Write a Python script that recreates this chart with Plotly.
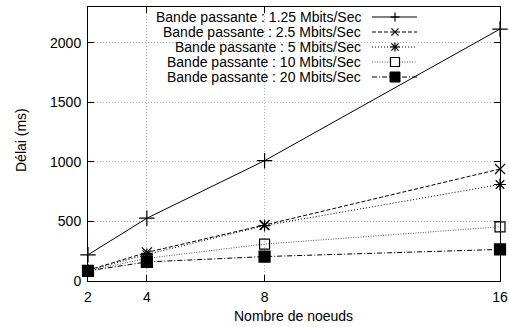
import plotly.graph_objects as go

nodes = [2, 4, 8, 16]
bw_labels = [
    "Bande passante : 1.25 Mbits/Sec",
    "Bande passante : 2.5 Mbits/Sec",
    "Bande passante : 5 Mbits/Sec",
    "Bande passante : 10 Mbits/Sec",
    "Bande passante : 20 Mbits/Sec",
]
delay_125 = [220, 527, 1010, 2115]
delay_25 = [90, 240, 470, 940]
delay_5 = [90, 222, 465, 810]
delay_10 = [85, 190, 310, 455]
delay_20 = [85, 160, 205, 265]
x_ticks = [2, 4, 8, 16]
y_ticks = [0, 500, 1000, 1500, 2000]

series = [delay_125, delay_25, delay_5, delay_10, delay_20]
dashes = ["solid", "4px,2px", "1px,2px", "1px,1.5px", "5px,2px,1px,2px"]
symbols = ["cross-thin", "x-thin", "asterisk", "square-open", "square"]
sizes = [11, 10, 10, 10, 11]
lcolors = ["black", "black", "black", "#555555", "black"]

FONT = "Liberation Sans, Arial, Helvetica, sans-serif"

fig = go.Figure()
for vals, name, dash, sym, sz, lc in zip(series, bw_labels, dashes, symbols, sizes, lcolors):
    fig.add_trace(go.Scatter(
        x=nodes, y=vals, name=name, mode="lines+markers",
        line=dict(color=lc, width=1, dash=dash),
        marker=dict(symbol=sym, size=sz, color="black",
                    line=dict(color="black", width=1.2)),
        showlegend=False, cliponaxis=False,
    ))

# plot-area pixel geometry used for legend placement
L, R, T, B = 88, 500, 7, 281
def px(x):
    return (x - L) / (R - L)
def py(y):
    return (B - y) / (B - T)

shapes = []
annotations = []
# white legend background (covers grid only)
shapes.append(dict(type="rect", xref="paper", yref="paper",
                   x0=px(145), x1=px(425), y0=py(84), y1=py(8),
                   fillcolor="white", line=dict(width=0), layer="between"))
rows = [17, 32, 47, 62, 77]
for i, (name, row) in enumerate(zip(bw_labels, rows)):
    annotations.append(dict(text=name, xref="paper", yref="paper",
                            x=px(363), y=py(row), xanchor="right", yanchor="middle",
                            showarrow=False, font=dict(size=14, color="black", family=FONT)))
    shapes.append(dict(type="line", xref="paper", yref="paper",
                       x0=px(372), x1=px(417), y0=py(row), y1=py(row),
                       line=dict(color=lcolors[i], width=1, dash=dashes[i]), layer="above"))
    cx, cy, h = 395, row, 4.5
    if symbols[i] in ("cross-thin", "asterisk"):
        shapes.append(dict(type="line", xref="paper", yref="paper", x0=px(cx - h), x1=px(cx + h),
                           y0=py(cy), y1=py(cy), line=dict(color="black", width=1.2), layer="above"))
        shapes.append(dict(type="line", xref="paper", yref="paper", x0=px(cx), x1=px(cx),
                           y0=py(cy - h), y1=py(cy + h), line=dict(color="black", width=1.2), layer="above"))
    if symbols[i] in ("x-thin", "asterisk"):
        d = 3.6
        shapes.append(dict(type="line", xref="paper", yref="paper", x0=px(cx - d), x1=px(cx + d),
                           y0=py(cy - d), y1=py(cy + d), line=dict(color="black", width=1.2), layer="above"))
        shapes.append(dict(type="line", xref="paper", yref="paper", x0=px(cx - d), x1=px(cx + d),
                           y0=py(cy + d), y1=py(cy - d), line=dict(color="black", width=1.2), layer="above"))
    if symbols[i] == "square-open":
        shapes.append(dict(type="rect", xref="paper", yref="paper", x0=px(cx - 4.5), x1=px(cx + 4.5),
                           y0=py(cy + 4.5), y1=py(cy - 4.5), fillcolor="white",
                           line=dict(color="black", width=1.2), layer="above"))
    if symbols[i] == "square":
        shapes.append(dict(type="rect", xref="paper", yref="paper", x0=px(cx - 5), x1=px(cx + 5),
                           y0=py(cy + 5), y1=py(cy - 5), fillcolor="black",
                           line=dict(color="black", width=1), layer="above"))

# axis titles as annotations for exact placement
annotations.append(dict(text="Nombre de noeuds", xref="paper", yref="paper",
                        x=px(293), y=py(316), xanchor="center", yanchor="middle",
                        showarrow=False, font=dict(size=14, color="black", family=FONT)))
annotations.append(dict(text="Délai (ms)", xref="paper", yref="paper",
                        x=px(21), y=py(140), xanchor="center", yanchor="middle", textangle=-90,
                        showarrow=False, font=dict(size=14, color="black", family=FONT)))

axis_common = dict(
    showline=True, linecolor="black", linewidth=1, mirror="allticks",
    ticks="inside", ticklen=6, tickcolor="black", tickwidth=1,
    showgrid=True, gridcolor="#b4b4b4", griddash="1px,2px", gridwidth=1,
    zeroline=False, tickfont=dict(size=14, color="black", family=FONT),
    automargin=False, ticklabelstandoff=3,
)

fig.update_layout(
    width=509, height=327,
    margin=dict(l=L, r=509 - R, t=T, b=327 - B, autoexpand=False),
    paper_bgcolor="white", plot_bgcolor="white",
    font=dict(family=FONT, size=14, color="black"),
    xaxis=dict(range=[2, 16], tickvals=x_ticks, ticktext=[str(v) for v in x_ticks],
               **axis_common),
    yaxis=dict(range=[0, 2300], tickvals=y_ticks, **axis_common),
    shapes=shapes, annotations=annotations,
    showlegend=False,
)

fig.write_html(
    "out.html",
    config={"displayModeBar": False, "staticPlot": True},
    post_script="document.body.style.margin='0';document.body.style.padding='0';"
                "document.body.style.overflow='hidden';",
)
